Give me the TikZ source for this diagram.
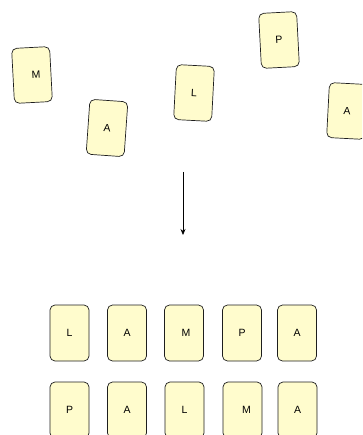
\documentclass[tikz,border=0pt]{standalone}
\usepackage{fontspec}
\setmainfont{Liberation Sans}
\usetikzlibrary{arrows.meta}
\definecolor{cardfill}{RGB}{255,252,205}
\definecolor{cardline}{RGB}{30,30,30}
\tikzset{
  card/.style={draw=cardline, fill=cardfill, line width=0.7pt, rounded corners=5pt,
    rectangle, minimum width=38pt, minimum height=55pt, inner sep=0pt,
    font=\fontsize{10.5}{12}\selectfont},
  rowcard/.style={card, minimum width=39pt, minimum height=56pt},
  arr/.style={draw=black, line width=0.7pt, -{Stealth[length=6pt,width=5pt]}}
}
\begin{document}
\begin{tikzpicture}[x=1pt,y=-1pt]
\useasboundingbox (0,0) rectangle (362,435);
\clip (0,0) rectangle (362,435);
% scattered cards
\node[card, rotate=3] (m) at (32,75) {\hspace{8pt}M};
\node[card, rotate=-4] (a1) at (107,128) {A};
\node[card, rotate=-3] (l) at (194,93) {L};
\node[card, rotate=3] (p) at (279,40) {P};
\node[card, rotate=-3] (a2) at (347,111) {A};
% arrow
\coordinate (s) at (183,172);
\coordinate (e) at (183,235);
\draw[arr] (s) -- (e);
% row 1
\node[rowcard] (r1a) at (69.5,333) {L};
\node[rowcard] (r1b) at (127,333) {A};
\node[rowcard] (r1c) at (184,333) {\hspace{4pt}M};
\node[rowcard] (r1d) at (242,333) {P};
\node[rowcard] (r1e) at (297,333) {A};
% row 2
\node[rowcard] (r2a) at (69.5,410) {P};
\node[rowcard] (r2b) at (127,410) {A};
\node[rowcard] (r2c) at (184.5,410) {L};
\node[rowcard] (r2d) at (242.5,410) {\hspace{8pt}M};
\node[rowcard] (r2e) at (297.5,410) {A};
\end{tikzpicture}
\end{document}
